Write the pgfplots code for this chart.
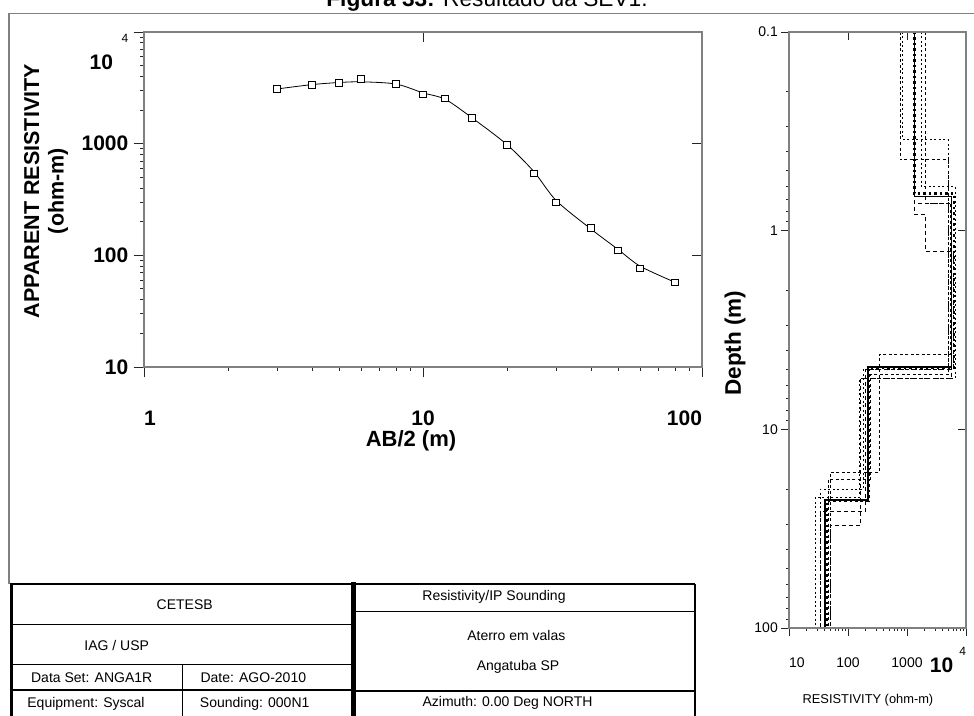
\documentclass[border=0pt]{standalone}
\usepackage{pgfplots}
\pgfplotsset{compat=1.18}
\usepackage{fontspec}
\setmainfont{Liberation Sans}
\definecolor{axgray}{RGB}{128,128,128}
\newcommand{\fs}[1]{\fontsize{#1}{#1}\selectfont}
\begin{document}
\begin{tikzpicture}[x=1pt,y=1pt]
\useasboundingbox (0,0) rectangle (974,715);
% title (top part cut off, as in the reference)
\node[anchor=base, inner sep=0pt, font=\fs{22.7}] at (487,708) {\textbf{Figura 33:} Resultado da SEV1.};
% frame
\draw[axgray, line width=1.2pt] (9,131) -- (9,701.7) -- (980,701.7);
% table
\draw[line width=1.3pt] (11.5,90.7) -- (353,90.7);
\draw[line width=1.3pt] (11.5,50.7) -- (353,50.7);
\draw[line width=1.3pt] (11.5,25) -- (353,25);
\draw[line width=1.3pt] (182.3,50.7) -- (182.3,-5);
\draw[line width=1.3pt] (353,103.3) -- (695,103.3);
\draw[line width=1.3pt] (353,24) -- (695,24);
\draw[line width=2.7pt] (11.5,-5) -- (11.5,131) -- (695,131);
\draw[line width=2pt] (695,131) -- (695,-5);
\draw[line width=5pt] (353,133) -- (353,-5);
\begin{scope}[every node/.style={font=\fs{14}, inner sep=0pt, anchor=center}]
\node at (184.7,110) {CETESB};
\node at (116.7,70) {IAG / USP};
\node at (91.7,37.7) {Data Set: ANGA1R};
\node at (253.3,37.7) {Date: AGO-2010};
\node at (86,11) {Equipment: Syscal};
\node at (254.7,11) {Sounding: 000N1};
\node at (494,117.7) {Resistivity/IP Sounding};
\node at (516.3,79.3) {Aterro em valas};
\node at (518,48.3) {Angatuba SP};
\node at (507.5,11.7) {Azimuth: 0.00 Deg NORTH};
\end{scope}

% ---------------- left chart: sounding curve ----------------
\begin{axis}[
  at={(144pt,348pt)}, anchor=south west, scale only axis,
  width=558pt, height=335pt,
  xmode=log, ymode=log, xmin=1, xmax=100, ymin=10, ymax=10000,
  axis line style={draw=axgray, line width=1.6pt},
  tick style={black!85, line width=0.9pt},
  major tick length=10.5pt, minor tick length=4pt,
  tick align=outside, tick pos=left,
  xtick={1,10,100},
  xticklabels={\makebox[0pt][l]{1},10,\makebox[0pt][r]{100}},
  ytick={10,100,1000,10000},
  yticklabels={10,100,1000,{\raisebox{-37pt}[0pt][0pt]{10}\hspace{8.7pt}\raisebox{-10pt}[0pt][0pt]{\mdseries\fs{12}4}\hspace{10pt}}},
  ticklabel style={font=\fs{21}\bfseries, inner sep=0pt},
  xticklabel style={yshift=-33pt},
  yticklabel style={xshift=-5pt},
  xlabel={AB/2 (m)},
  xlabel style={at={(axis description cs:0.4785,-0.221)}, anchor=center, font=\fs{22}\bfseries},
  ylabel={APPARENT RESISTIVITY\\(ohm-m)},
  ylabel style={at={(axis description cs:-0.1756,0.525)}, anchor=center, align=center, font=\fontsize{21.5}{24.5}\selectfont\bfseries},
]
\addplot[black, line width=0.8pt, smooth] coordinates {
 (3,3090) (4,3380) (5,3530) (6,3580) (8,3420) (10,2850) (12,2500) (15,1700)
 (20,980) (25,560) (30,310) (40,172) (50,113) (60,80) (80,57.4)};
\addplot[only marks, mark=square*, mark size=3.3pt,
  mark options={fill=white, draw=black, line width=0.8pt}] coordinates {
 (3,3090) (4,3354) (5,3516) (6,3796) (8,3423) (10,2769) (12,2549) (15,1698)
 (20,973) (25,543) (30,299) (40,175) (50,111) (60,76.6) (80,57.4)};
\end{axis}
\begin{axis}[
  at={(144pt,348pt)}, anchor=south west, scale only axis,
  width=558pt, height=335pt,
  xmode=log, ymode=log, xmin=1, xmax=100, ymin=10, ymax=10000,
  axis line style={draw=axgray, line width=1.6pt},
  tick style={black!85, line width=0.9pt},
  major tick length=10.5pt, minor tick length=0pt,
  tick align=inside, tick pos=right,
  xtick={10}, ytick={100,1000}, xticklabels={}, yticklabels={},
]
\end{axis}

% ---------------- right chart: layered model ----------------
\begin{axis}[
  at={(789pt,87pt)}, anchor=south west, scale only axis,
  width=177pt, height=596pt,
  xmode=log, ymode=log, xmin=10, xmax=10000, ymin=0.1, ymax=100, y dir=reverse,
  axis line style={draw=axgray, line width=1.4pt},
  tick style={black!85, line width=0.8pt},
  major tick length=8pt, minor tick length=3pt,
  tick align=outside, tick pos=left,
  xtick={10,100,1000,10000},
  xticklabels={\makebox[0pt][l]{10},100,1000,{\makebox[0pt][r]{\bfseries\fs{21}10\hspace{6pt}\raisebox{17.4pt}[0pt][0pt]{\mdseries\fs{12}4}}}},
  ytick={0.1,1,10,100}, yticklabels={0.1,1,10,100},
  ticklabel style={font=\fs{14}, inner sep=0pt},
  xticklabel style={yshift=-21.7pt},
  yticklabel style={xshift=-3pt},
  xlabel={RESISTIVITY (ohm-m)},
  xlabel style={at={(axis description cs:0.446,-0.121)}, anchor=center, font=\fs{12.85}},
  ylabel={Depth (m)},
  ylabel style={at={(axis description cs:-0.305,0.478)}, anchor=center, font=\fs{22.5}\bfseries},
]
% equivalent models (dashed / dotted)
\addplot[black, line width=0.8pt, dash pattern=on 3pt off 2.5pt] coordinates {
 (761,0.1) (761,0.44) (5012,0.44) (5012,5.3) (236,5.3) (236,17.8) (46.4,17.8) (46.4,100)};
\addplot[black, line width=0.8pt, dash pattern=on 2pt off 2.5pt] coordinates {
 (845,0.1) (845,0.349) (5012,0.349) (5012,4.99) (182,4.99) (182,20.0) (33.5,20.0) (33.5,100)};
\addplot[black, line width=0.8pt, dash pattern=on 2pt off 2.5pt] coordinates {
 (1746,0.1) (1746,0.599) (6510,0.599) (6510,5.56) (155,5.56) (155,22.0) (27.6,22.0) (27.6,100)};
\addplot[black, line width=0.8pt, dash pattern=on 3pt off 2.5pt] coordinates {
 (2018,0.1) (2018,0.726) (5500,0.726) (5500,4.2) (339,4.2) (339,16.5) (49.5,16.5) (49.5,100)};
\addplot[black, line width=0.8pt, dash pattern=on 4pt off 3pt] coordinates {
 (1330,0.1) (1330,0.831) (2075,0.831) (2075,1.27) (6000,1.27) (6000,4.99) (200,4.99) (200,25.9) (33.5,25.9) (33.5,100)};
\addplot[black, line width=0.8pt, dash pattern=on 4pt off 3pt] coordinates {
 (1330,0.1) (1330,0.726) (5720,0.726) (5720,5.56) (160,5.56) (160,30.6) (49.5,30.6) (49.5,100)};
% best model
\addplot[black, line width=1.6pt] coordinates {
 (1330,0.1) (1330,0.672) (5720,0.672) (5720,4.84) (216,4.84) (216,22.7) (41.2,22.7) (41.2,100)};
\addplot[black, line width=2.6pt, dash pattern=on 2.5pt off 3pt] coordinates {
 (1330,0.1) (1330,0.65) (6300,0.65) (6300,4.9) (225,4.9) (225,22.9) (44,22.9) (44,100)};
\end{axis}
\begin{axis}[
  at={(789pt,87pt)}, anchor=south west, scale only axis,
  width=177pt, height=596pt,
  xmode=log, ymode=log, xmin=10, xmax=10000, ymin=0.1, ymax=100, y dir=reverse,
  axis line style={draw=axgray, line width=1.4pt},
  tick style={black!85, line width=0.8pt},
  major tick length=8pt, minor tick length=0pt,
  tick align=inside, tick pos=right,
  xtick={100,1000}, ytick={1,10}, xticklabels={}, yticklabels={},
]
\end{axis}
\end{tikzpicture}
\end{document}
